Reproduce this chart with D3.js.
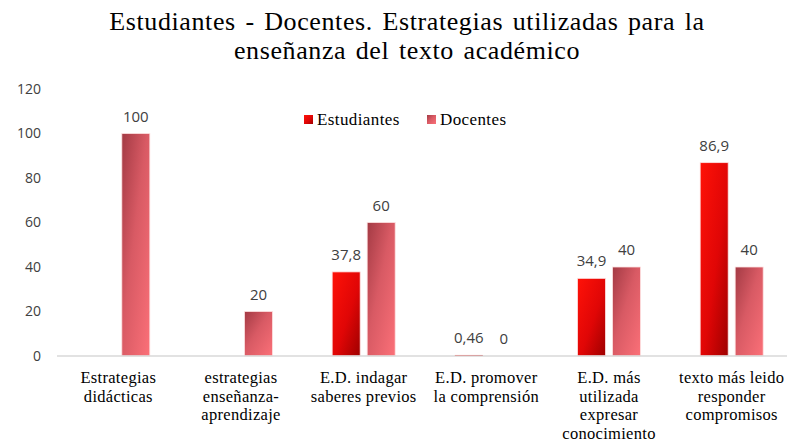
<!DOCTYPE html>
<html>
<head>
<meta charset="utf-8">
<script src="https://cdn.jsdelivr.net/npm/d3@7"></script>
<style>
  body { margin: 0; background: #fff; }
  svg { display: block; }
</style>
</head>
<body>
<div id="container"></div>
<script>
/* DATA */
const categories = [
  ["Estrategias", "didácticas"],
  ["estrategias", "enseñanza-", "aprendizaje"],
  ["E.D. indagar", "saberes previos"],
  ["E.D. promover", "la comprensión"],
  ["E.D. más", "utilizada", "expresar", "conocimiento"],
  ["texto más leido", "responder", "compromisos"]
];
const estudiantes = [null, null, 37.8, 0.46, 34.9, 86.9];
const docentes = [100, 20, 60, 0, 40, 40];
const estudiantesLabels = ["", "", "37,8", "0,46", "34,9", "86,9"];
const docentesLabels = ["100", "20", "60", "0", "40", "40"];
const seriesNames = ["Estudiantes", "Docentes"];
const yTicks = [0, 20, 40, 60, 80, 100, 120];
const titleLines = ["Estudiantes - Docentes. Estrategias utilizadas para la", "enseñanza del texto académico"];

/* CONSTANTS */
const width = 787, height = 442;
const margin = {top: 89, bottom: 86, left: 57, right: -6};

const svg = d3.select("#container").append("svg")
  .attr("width", width).attr("height", height);

// gradients
const defs = svg.append("defs");
const gradE = defs.append("linearGradient").attr("id", "gE")
  .attr("x1", "0%").attr("y1", "0%").attr("x2", "100%").attr("y2", "100%");
gradE.append("stop").attr("offset", "0%").attr("stop-color", "#ff1208");
gradE.append("stop").attr("offset", "55%").attr("stop-color", "#e00606");
gradE.append("stop").attr("offset", "100%").attr("stop-color", "#9e0000");
const gradD = defs.append("linearGradient").attr("id", "gD")
  .attr("x1", "0%").attr("y1", "0%").attr("x2", "100%").attr("y2", "100%");
gradD.append("stop").attr("offset", "0%").attr("stop-color", "#a33a44");
gradD.append("stop").attr("offset", "45%").attr("stop-color", "#d85a64");
gradD.append("stop").attr("offset", "100%").attr("stop-color", "#fb7078");

/* SCALES */
const xScale = d3.scaleBand()
  .domain(d3.range(categories.length))
  .range([margin.left, width - margin.right])
  .padding(0);

const yScale = d3.scaleLinear()
  .domain([0, 120])
  .range([height - margin.bottom, margin.top]);

const barW = 28, gap = 7;

// title
svg.append("text")
  .attr("text-anchor", "middle")
  .style("font-family", "'Liberation Serif', 'Times New Roman', serif")
  .style("font-size", "26px")
  .style("letter-spacing", "0.6px")
  .style("word-spacing", "2.5px")
  .attr("fill", "#000")
  .selectAll("tspan")
  .data(titleLines)
  .join("tspan")
  .attr("x", 407)
  .attr("y", (d, i) => 30 + i * 29)
  .text(d => d);

// y axis
const yAxis = d3.axisLeft(yScale).tickValues(yTicks).tickSize(0).tickPadding(0);
const gy = svg.append("g")
  .attr("transform", `translate(41,0)`)
  .call(yAxis);
gy.select(".domain").remove();
gy.selectAll("text")
  .style("font-family", "'Open Sans', sans-serif")
  .style("font-size", "14px")
  .attr("fill", "#404040");

// bars
const center = i => xScale(i) + xScale.bandwidth() / 2;

svg.append("g").selectAll("rect")
  .data(estudiantes.map((v, i) => ({v, i})).filter(d => d.v !== null))
  .join("rect")
  .attr("x", d => center(d.i) - gap / 2 - barW)
  .attr("y", d => yScale(d.v))
  .attr("width", barW)
  .attr("height", d => yScale(0) - yScale(d.v))
  .attr("fill", "url(#gE)")
  .attr("stroke", d => d.v > 2 ? "#fde2e2" : "none").attr("stroke-width", 0.8);

svg.append("g").selectAll("rect")
  .data(docentes.map((v, i) => ({v, i})))
  .join("rect")
  .attr("x", d => center(d.i) + gap / 2)
  .attr("y", d => yScale(d.v))
  .attr("width", barW)
  .attr("height", d => yScale(0) - yScale(d.v))
  .attr("fill", "url(#gD)")
  .attr("stroke", d => d.v > 2 ? "#fde2e2" : "none").attr("stroke-width", 0.8);

// baseline
svg.append("line")
  .attr("x1", margin.left).attr("x2", width)
  .attr("y1", yScale(0)).attr("y2", yScale(0))
  .attr("stroke", "#d9d9d9").attr("stroke-width", 1.5);

// value labels
const labelStyle = sel => sel
  .attr("text-anchor", "middle")
  .style("font-family", "'Open Sans', sans-serif")
  .style("font-size", "15px")
  .attr("fill", "#404040");

svg.append("g").selectAll("text")
  .data(estudiantes.map((v, i) => ({v, i})).filter(d => d.v !== null))
  .join("text")
  .attr("x", d => center(d.i) - gap / 2 - barW / 2)
  .attr("y", d => yScale(d.v) - 12)
  .text(d => estudiantesLabels[d.i])
  .call(labelStyle);

svg.append("g").selectAll("text")
  .data(docentes.map((v, i) => ({v, i})))
  .join("text")
  .attr("x", d => center(d.i) + gap / 2 + barW / 2)
  .attr("y", d => yScale(d.v) - 12)
  .text(d => docentesLabels[d.i])
  .call(labelStyle);

// category labels
svg.append("g").selectAll("text")
  .data(categories)
  .join("text")
  .attr("text-anchor", "middle")
  .style("font-family", "'Liberation Serif', 'Times New Roman', serif")
  .style("font-size", "16.5px")
  .style("letter-spacing", "0.3px")
  .attr("fill", "#000")
  .each(function(d, i) {
    d3.select(this).selectAll("tspan")
      .data(d)
      .join("tspan")
      .attr("x", center(i))
      .attr("y", (t, j) => 383 + j * 18.5)
      .text(t => t);
  });

// legend
const legendX = [304, 427];
const legend = svg.append("g").selectAll("g")
  .data(seriesNames)
  .join("g")
  .attr("transform", (d, i) => `translate(${legendX[i]},115)`);
legend.append("rect")
  .attr("width", 9).attr("height", 9)
  .attr("fill", (d, i) => i === 0 ? "url(#gE)" : "url(#gD)");
legend.append("text")
  .attr("x", 13).attr("y", 10)
  .style("font-family", "'Liberation Serif', 'Times New Roman', serif")
  .style("font-size", "17px")
  .style("letter-spacing", "0.4px")
  .attr("fill", "#000")
  .text(d => d);
</script>
</body>
</html>
